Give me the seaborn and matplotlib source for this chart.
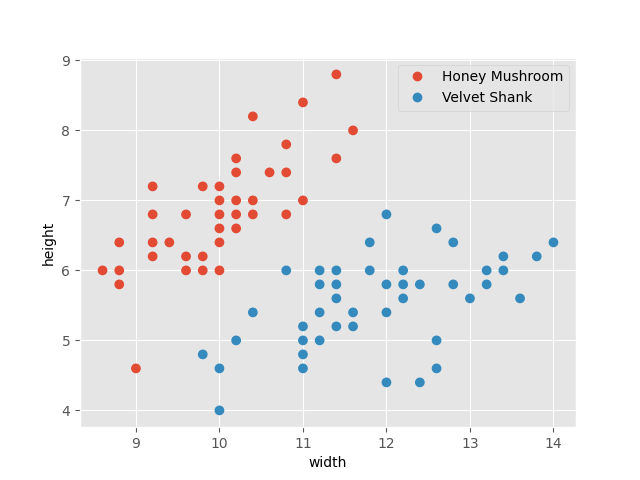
import matplotlib
matplotlib.use("Agg")
import matplotlib.pyplot as plt
import seaborn as sns
import pandas as pd

honey_width = [8.6, 8.8, 8.8, 8.8, 9.0, 9.2, 9.2, 9.2, 9.2, 9.4,
               9.6, 9.6, 9.6, 9.8, 9.8, 9.8,
               10.0, 10.0, 10.0, 10.0, 10.0, 10.0,
               10.2, 10.2, 10.2, 10.2, 10.2,
               10.4, 10.4, 10.4, 10.6, 10.8, 10.8, 10.8,
               11.0, 11.0, 11.4, 11.4, 11.6]
honey_height = [6.0, 6.4, 6.0, 5.8, 4.6, 7.2, 6.8, 6.4, 6.2, 6.4,
                6.8, 6.2, 6.0, 7.2, 6.2, 6.0,
                7.2, 7.0, 6.8, 6.6, 6.4, 6.0,
                7.6, 7.4, 7.0, 6.8, 6.6,
                8.2, 7.0, 6.8, 7.4, 7.8, 7.4, 6.8,
                8.4, 7.0, 8.8, 7.6, 8.0]

velvet_width = [9.8, 10.0, 10.0, 10.2, 10.4, 10.8,
                11.0, 11.0, 11.0, 11.0,
                11.2, 11.2, 11.2, 11.2,
                11.4, 11.4, 11.4, 11.4,
                11.6, 11.6, 11.8, 11.8,
                12.0, 12.0, 12.0, 12.0,
                12.2, 12.2, 12.2, 12.4, 12.4,
                12.6, 12.6, 12.6, 12.8, 12.8, 13.0,
                13.2, 13.2, 13.4, 13.4, 13.6, 13.8, 14.0]
velvet_height = [4.8, 4.6, 4.0, 5.0, 5.4, 6.0,
                 5.2, 5.0, 4.8, 4.6,
                 6.0, 5.8, 5.4, 5.0,
                 6.0, 5.8, 5.6, 5.2,
                 5.4, 5.2, 6.4, 6.0,
                 6.8, 5.8, 5.4, 4.4,
                 6.0, 5.8, 5.6, 5.8, 4.4,
                 6.6, 5.0, 4.6, 6.4, 5.8, 5.6,
                 6.0, 5.8, 6.2, 6.0, 5.6, 6.2, 6.4]

species = ["Honey Mushroom", "Velvet Shank"]

df = pd.DataFrame({
    "width": honey_width + velvet_width,
    "height": honey_height + velvet_height,
    "species": [species[0]] * len(honey_width) + [species[1]] * len(velvet_width),
})

plt.style.use("ggplot")
fig, ax = plt.subplots(figsize=(6.4, 4.8), dpi=100)
sns.scatterplot(data=df, x="width", y="height", hue="species", hue_order=species,
                palette=["#E24A33", "#348ABD"], s=36, linewidth=1,
                edgecolor="face", ax=ax)
ax.set_xlabel("width", fontsize=10, color="black")
ax.set_ylabel("height", fontsize=10, color="black")
ax.legend(loc="upper right")
fig.savefig("out.png", dpi=100)
